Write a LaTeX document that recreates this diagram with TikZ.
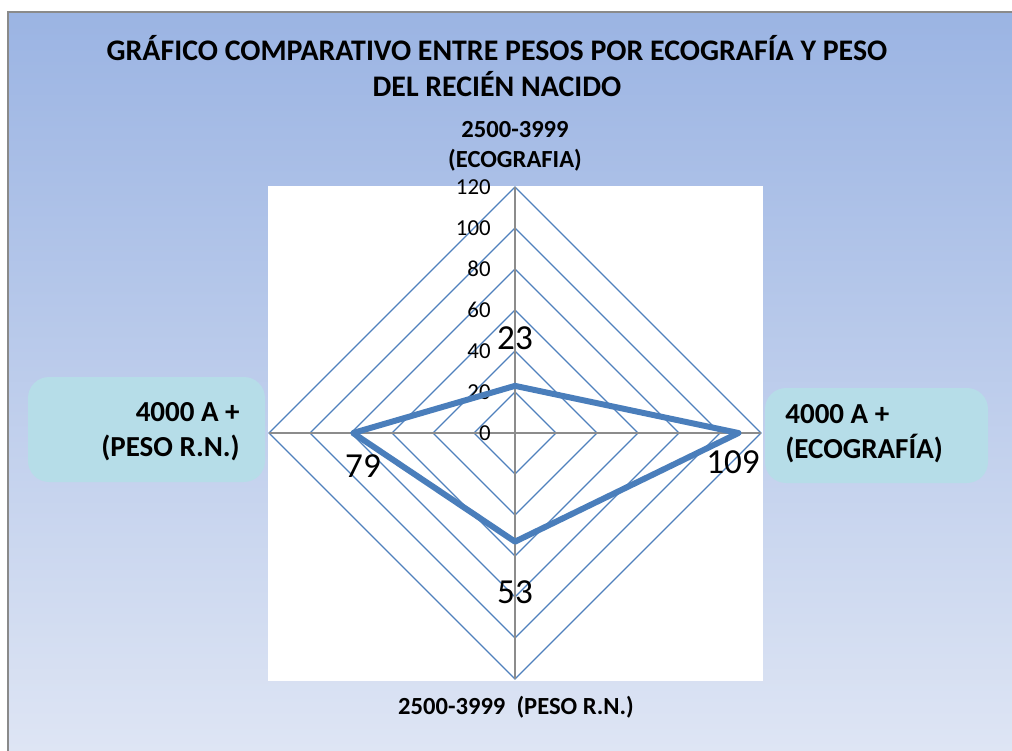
\documentclass[tikz,border=0pt]{standalone}
\usepackage{fontspec}
\setmainfont{Carlito}
\definecolor{gridblue}{HTML}{4F81BD}
\definecolor{serieblue}{HTML}{4A7EBB}
\definecolor{axisgray}{HTML}{8C8C8C}
\definecolor{framegray}{HTML}{8A8A8A}
\definecolor{boxteal}{HTML}{B6DDE8}
\definecolor{bgtop}{HTML}{9BB4E3}
\definecolor{bgbottom}{HTML}{DEE5F4}

\begin{document}
\begin{tikzpicture}
    [x=0.02cm,y=-0.02cm,every node/.style={inner sep=0pt},
    gridline/.style={draw=gridblue,line width=0.7pt},
    axisline/.style={draw=axisgray,line width=0.9pt},
    serie/.style={draw=serieblue,line width=3.4pt,line join=round},
    ticklabel/.style={anchor=east,font=\fontsize{13}{13}\selectfont},
    datalabel/.style={font=\fontsize{20}{20}\selectfont},
    catlabel/.style={font=\bfseries\fontsize{14}{17}\selectfont,align=center},
    sidelabel/.style={font=\bfseries\fontsize{16.5}{20}\selectfont},
    labelbox/.style={fill=boxteal,rounded corners=12pt}]

    \useasboundingbox (0,0) rectangle (1012,751);

    % fondo y marco
    \shade[top color=bgtop,bottom color=bgbottom] (8,12) rectangle (1012,751);
    \draw[framegray,line width=1.2pt] (8,751) -- (8,12) -- (1012,12);
    \fill[labelbox] (28,377) rectangle (265,482);
    \fill[labelbox] (765,388) rectangle (988,483);
    \fill[white] (268,186) rectangle (763,681);

    % rejilla
    \coordinate (o) at (515,433);
    \foreach \r in {1,...,6}
      \draw[gridline] (515,433-41*\r) -- (515+41*\r,433) -- (515,433+41*\r) -- (515-41*\r,433) -- cycle;

    \coordinate (top) at (515,187);
    \coordinate (rgt) at (761,433);
    \coordinate (bot) at (515,679);
    \coordinate (lft) at (269,433);
    \draw[axisline] (top) -- (bot);
    \draw[axisline] (lft) -- (rgt);

    \foreach \v in {0,20,...,120}
      \node[ticklabel] (t\v) at (491,433-2.05*\v) {\v};

    % serie
    \coordinate (d1) at (515,385.85);
    \coordinate (d2) at (738.45,433);
    \coordinate (d3) at (515,541.65);
    \coordinate (d4) at (353.05,433);
    \draw[serie] (d1) -- (d2) -- (d3) -- (d4) -- cycle;

    \node[datalabel] (v1) at (515,338) {23};
    \node[datalabel] (v2) at (733,462) {109};
    \node[datalabel] (v3) at (515,592) {53};
    \node[datalabel] (v4) at (363,466) {79};

    % textos
    \node[font=\bfseries\fontsize{17}{20}\selectfont,align=center] (titulo) at (497,66)
      {GRÁFICO COMPARATIVO ENTRE PESOS POR ECOGRAFÍA Y PESO\\DEL RECIÉN NACIDO};
    \node[catlabel] (c1) at (515,146) {2500-3999\\(ECOGRAFIA)};
    \node[catlabel] (c3) at (516,707) {2500-3999~~(PESO R.N.)};
    \node[sidelabel,align=right,anchor=east] (c4) at (240,432) {4000 A +\\(PESO R.N.)};
    \node[sidelabel,align=left,anchor=west] (c2) at (785,434) {4000 A +\\(ECOGRAFÍA)};
\end{tikzpicture}
\end{document}
